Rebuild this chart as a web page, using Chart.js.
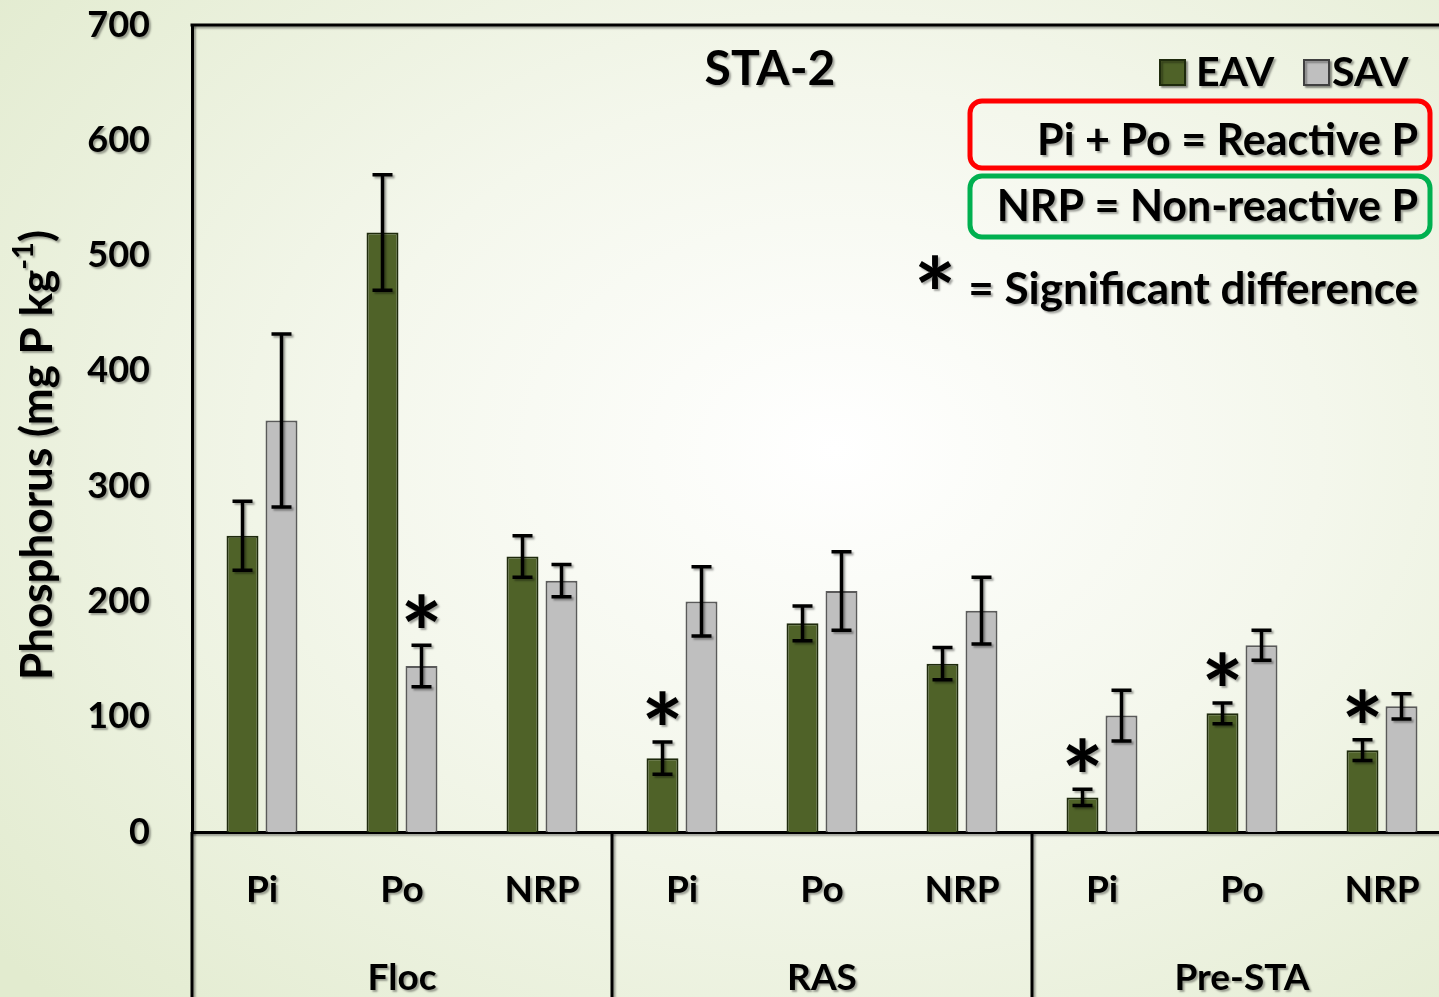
<!DOCTYPE html>
<html>
<head>
<meta charset="utf-8">
<script src="https://cdn.jsdelivr.net/npm/chart.js@4.4.1/dist/chart.umd.min.js"></script>
<style>
  html, body { margin: 0; padding: 0; overflow: hidden; }
  body {
    width: 1439px; height: 997px;
    background: radial-gradient(ellipse 75% 80% at 58% 45%, #ffffff 0%, #f4f7ec 45%, #e2ebcf 100%);
  }
  #grafica { display: block; }
</style>
</head>
<body>
<canvas id="grafica" width="1460" height="997"></canvas>
<script>
// datos
var categorias = ['Pi', 'Po', 'NRP', 'Pi', 'Po', 'NRP', 'Pi', 'Po', 'NRP'];
var grupos = ['Floc', 'RAS', 'Pre-STA'];
var eav = [257, 520, 239, 64, 181, 146, 30, 103, 71];
var eavErr = [30, 50, 18, 14, 15, 14, 7, 9, 9];
var sav = [357, 144, 218, 200, 209, 192, 101, 162, 109];
var savErr = [75, 18, 14, 30, 34, 29, 22, 13, 11];
var sigEav = [0, 0, 0, 1, 0, 0, 1, 1, 1];
var sigSav = [0, 1, 0, 0, 0, 0, 0, 0, 0];
var yTicks = [0, 100, 200, 300, 400, 500, 600, 700];

var fuente = 'Lato, "Open Sans", sans-serif';
var colorEav = '#4f6228';
var colorSav = '#bfbfbf';

function sombra(ctx, on){
    ctx.shadowColor = on ? 'rgba(0,0,0,0.35)' : 'rgba(0,0,0,0)';
    ctx.shadowOffsetX = on ? 2 : 0;
    ctx.shadowOffsetY = on ? 2 : 0;
    ctx.shadowBlur = on ? 2 : 0;
}

function texto(ctx, t, x, y, size, align){
    ctx.font = 'bold ' + size + 'px ' + fuente;
    ctx.textAlign = align || 'center';
    ctx.textBaseline = 'middle';
    ctx.fillStyle = '#000';
    ctx.fillText(t, x, y);
}

// asterisco centrado en (x, yc)
function estrella(ctx, x, yc, size){
    ctx.font = 'bold ' + size + 'px ' + fuente;
    ctx.textAlign = 'center';
    ctx.textBaseline = 'alphabetic';
    ctx.fillStyle = '#000';
    var m = ctx.measureText('*');
    ctx.fillText('*', x, yc + m.actualBoundingBoxAscent - (m.actualBoundingBoxAscent + m.actualBoundingBoxDescent) / 2);
}

function cajaRedonda(ctx, x, y, w, h, r, color){
    ctx.beginPath();
    ctx.moveTo(x + r, y);
    ctx.arcTo(x + w, y, x + w, y + h, r);
    ctx.arcTo(x + w, y + h, x, y + h, r);
    ctx.arcTo(x, y + h, x, y, r);
    ctx.arcTo(x, y, x + w, y, r);
    ctx.closePath();
    ctx.lineWidth = 5;
    ctx.strokeStyle = color;
    ctx.stroke();
}

var extras = {
    id: 'extras',
    beforeDraw: function(chart){
        sombra(chart.ctx, true);
    },
    beforeDatasetsDraw: function(chart){
        sombra(chart.ctx, false);
    },
    afterDatasetsDraw: function(chart){
        var ctx = chart.ctx;
        var yS = chart.scales.y;
        var errores = [eavErr, savErr];
        var sig = [sigEav, sigSav];
        ctx.save();
        sombra(ctx, true);
        for (var d = 0; d < 2; d++){
            var meta = chart.getDatasetMeta(d);
            var vals = chart.data.datasets[d].data;
            for (var i = 0; i < vals.length; i++){
                var x = meta.data[i].x;
                var yTop = yS.getPixelForValue(vals[i] + errores[d][i]);
                var yBot = yS.getPixelForValue(vals[i] - errores[d][i]);
                ctx.strokeStyle = '#000';
                ctx.lineWidth = 3.5;
                ctx.beginPath();
                ctx.moveTo(x, yTop); ctx.lineTo(x, yBot);
                ctx.moveTo(x - 10, yTop); ctx.lineTo(x + 10, yTop);
                ctx.moveTo(x - 10, yBot); ctx.lineTo(x + 10, yBot);
                ctx.stroke();
                if (sig[d][i]){
                    estrella(ctx, x, yTop - 34, 100);
                }
            }
        }
        ctx.restore();
    },
    afterDraw: function(chart){
        var ctx = chart.ctx;
        var a = chart.chartArea;
        var xS = chart.scales.x;
        var ancho = (a.right - a.left) / categorias.length;
        ctx.save();
        sombra(ctx, true);
        // marco superior y lineas de grupos
        ctx.strokeStyle = '#000';
        ctx.lineWidth = 3;
        ctx.beginPath();
        ctx.moveTo(a.left - 1.5, a.top);
        ctx.lineTo(a.right, a.top);
        ctx.lineTo(a.right, a.bottom);
        for (var g = 0; g <= grupos.length; g++){
            var xg = a.left + g * 3 * ancho;
            ctx.moveTo(xg, a.bottom);
            ctx.lineTo(xg, chart.height);
        }
        ctx.stroke();
        for (var g2 = 0; g2 < grupos.length; g2++){
            var xc = xS.getPixelForValue(g2 * 3 + 1);
            texto(ctx, grupos[g2], xc, 978, 37);
        }
        // titulo
        texto(ctx, 'STA-2', 770, 70, 48);
        // leyenda
        ctx.lineWidth = 2;
        ctx.fillStyle = colorEav; ctx.strokeStyle = '#1e2a0c';
        ctx.fillRect(1160, 60, 25, 25); ctx.strokeRect(1160, 60, 25, 25);
        texto(ctx, 'EAV', 1196, 73, 41, 'left');
        ctx.fillStyle = colorSav; ctx.strokeStyle = '#404040';
        ctx.fillRect(1304, 60, 25, 25); ctx.strokeRect(1304, 60, 25, 25);
        texto(ctx, 'SAV', 1332, 73, 41, 'left');
        // notas
        sombra(ctx, false);
        cajaRedonda(ctx, 970, 101, 460, 67, 12, '#ff0000');
        cajaRedonda(ctx, 970, 176, 460, 61, 12, '#00b050');
        sombra(ctx, true);
        texto(ctx, 'Pi + Po = Reactive P', 1418, 141, 43, 'right');
        texto(ctx, 'NRP = Non-reactive P', 1418, 207, 43, 'right');
        estrella(ctx, 935, 272, 100);
        texto(ctx, '= Significant difference', 1418, 290, 44, 'right');
        // titulo eje y
        ctx.translate(38, 455);
        ctx.rotate(-Math.PI / 2);
        ctx.font = 'bold 44px ' + fuente;
        var p1 = 'Phosphorus (mg P kg';
        var w1 = ctx.measureText(p1).width;
        ctx.font = 'bold 29px ' + fuente;
        var w2 = ctx.measureText('-1').width;
        ctx.font = 'bold 44px ' + fuente;
        var w3 = ctx.measureText(')').width;
        var x0 = -(w1 + w2 + w3) / 2;
        ctx.fillStyle = '#000';
        ctx.textAlign = 'left';
        ctx.textBaseline = 'middle';
        ctx.fillText(p1, x0, 0);
        ctx.font = 'bold 29px ' + fuente;
        ctx.fillText('-1', x0 + w1, -14);
        ctx.font = 'bold 44px ' + fuente;
        ctx.fillText(')', x0 + w1 + w2, 0);
        ctx.restore();
    }
};

var grafica = new Chart(document.getElementById('grafica').getContext('2d'), {
    type: 'bar',
    data: {
        labels: categorias,
        datasets: [{
            label: 'EAV',
            data: eav,
            backgroundColor: colorEav,
            borderColor: '#1e2a0c',
            borderWidth: 2
        }, {
            label: 'SAV',
            data: sav,
            backgroundColor: colorSav,
            borderColor: '#5a5a5a',
            borderWidth: 2
        }]
    },
    options: {
        responsive: false,
        animation: false,
        devicePixelRatio: 1,
        categoryPercentage: 0.557,
        barPercentage: 0.82,
        layout: { padding: { top: 25, right: 8, left: 0, bottom: 0 } },
        plugins: {
            legend: { display: false },
            tooltip: { enabled: false }
        },
        scales: {
            x: {
                grid: { display: false, drawTicks: false },
                border: { display: true, color: '#000', width: 3 },
                ticks: {
                    color: '#000',
                    padding: 36,
                    font: { family: fuente, size: 37, weight: 'bold' }
                },
                afterFit: function(s){ s.height = 165; }
            },
            y: {
                min: 0,
                max: 700,
                grid: { display: false, drawTicks: false },
                border: { display: true, color: '#000', width: 3 },
                afterBuildTicks: function(s){ s.ticks = yTicks.map(function(v){ return { value: v }; }); },
                ticks: {
                    color: '#000',
                    padding: 42,
                    font: { family: fuente, size: 36, weight: 'bold' }
                },
                afterFit: function(s){ s.width = 192; s.paddingTop = 0; s.paddingBottom = 0; }
            }
        }
    },
    plugins: [extras]
});
</script>
</body>
</html>
